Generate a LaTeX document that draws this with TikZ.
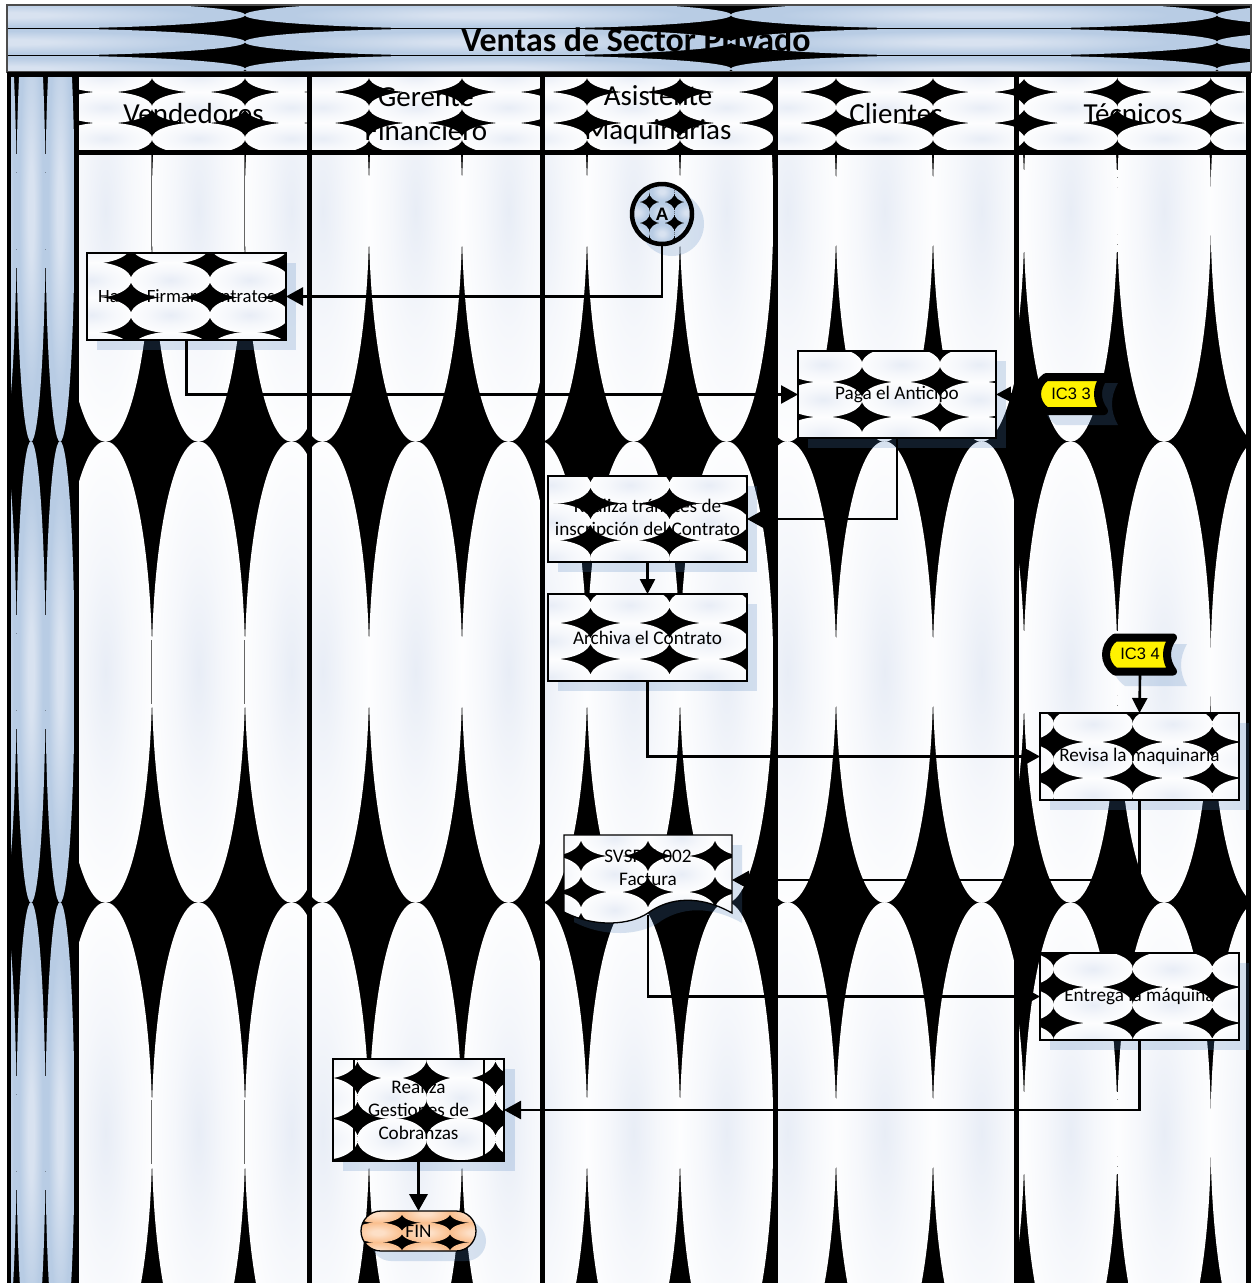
\documentclass[tikz,border=0pt]{standalone}
\usepackage{xcolor}
\usepackage{fontspec}
\setmainfont{Carlito}
\newfontfamily\arialfont{Liberation Sans}
\usetikzlibrary{arrows.meta, positioning}

\definecolor{bandblue}{HTML}{B8CCE4}
\definecolor{bandlight}{HTML}{D8E2F0}
\definecolor{corepale}{HTML}{E8EDF6}
\definecolor{corehalf}{HTML}{F5F7FB}
\definecolor{finorange}{HTML}{FAC090}
\definecolor{finlight}{HTML}{FDDFC6}
\definecolor{shadowblue}{HTML}{4F81BD}
\pgfdeclareradialshading{palecore}{\pgfpoint{0bp}{0bp}}{color(0bp)=(corepale); color(13bp)=(corehalf); color(28bp)=(white); color(50bp)=(white)}
\pgfdeclareradialshading{bluecore}{\pgfpoint{0bp}{0bp}}{color(0bp)=(bandlight); color(5bp)=(bandlight); color(20bp)=(bandblue); color(50bp)=(bandblue)}
\pgfdeclareradialshading{orangecore}{\pgfpoint{0bp}{0bp}}{color(0bp)=(finlight); color(6bp)=(finlight); color(24bp)=(finorange); color(50bp)=(finorange)}

\newcommand{\tilefill}[6]{%
  \begin{scope}
    \clip #1;
    \fill[black] #1;
    \foreach \tx in {#2}{\foreach \ty in {#3}{\shade[shading=#6] (\tx,\ty) ellipse (#4pt and #5pt);}}
  \end{scope}}

\begin{document}
\begin{tikzpicture}[
    x=1pt, y=-1pt,
    titletext/.style={font=\fontsize{33.9}{36}\selectfont\bfseries, inner sep=0pt},
    lanetext/.style={font=\fontsize{29}{34}\selectfont, align=center, inner sep=0pt},
    stepbox/.style={rectangle, draw=black, line width=1.3pt, minimum width=199pt, minimum height=87pt,
                    inner sep=0pt, outer sep=0pt, align=center, font=\fontsize{19.2}{23}\selectfont},
    procbox/.style={stepbox, minimum width=171pt, minimum height=102pt},
    docbox/.style={rectangle, minimum width=168pt, minimum height=80pt, inner sep=0pt, outer sep=0pt},
    doctext/.style={align=center, inner sep=0pt, font=\fontsize{19.2}{23}\selectfont},
    finbox/.style={rectangle, rounded corners=20pt, draw=black, line width=1.3pt, minimum width=115pt, minimum height=40pt,
                   inner sep=0pt, outer sep=0pt, font=\fontsize{19.2}{23}\selectfont},
    connbox/.style={circle, draw=black, line width=4.5pt, minimum size=60pt, inner sep=0pt, outer sep=2pt,
                    font=\arialfont\bfseries\fontsize{18}{20}\selectfont},
    icbox/.style={rectangle, minimum width=74pt, minimum height=42pt, inner sep=0pt, outer sep=0pt,
                  font=\arialfont\fontsize{16.5}{18}\selectfont},
    icshape/.style={draw=black, fill=yellow, line width=8pt, line join=round},
    shadowfill/.style={fill=shadowblue, fill opacity=0.22},
    lanerule/.style={draw=black, line width=4.5pt},
    arr/.style={-{Triangle[length=17pt, width=18pt]}, line width=2.6pt, draw=black},
    arrsmall/.style={-{Triangle[length=15pt, width=15pt]}, line width=2.6pt, draw=black},
    arrthick/.style={-{Triangle[length=17pt, width=18pt]}, line width=3.5pt, draw=black}
]
\useasboundingbox (0,0) rectangle (1256,1283);

% title band and side band
\tilefill{(7,5) rectangle (1251,72)}{2,488,974,1460}{15,42,69}{243.3}{13.9}{bluecore}
\draw[black, line width=0.6pt] (7,28.5) -- (1251,28.5) (7,55.5) -- (1251,55.5);
\draw[black!70, line width=1.5pt] (7,5) rectangle (1251,72);
\tilefill{(9,74) rectangle (77,1283)}{2,31,60,89}{211,672,1133}{14.7}{230.8}{bluecore}

% lanes
\tilefill{(77,76) rectangle (310,152)}{105.5,198.5,291.5}{76.5,107.5,138.5}{46.8}{15.9}{palecore}
\tilefill{(77,152) rectangle (310,1283)}{105.5,198.5,291.5}{211,672,1133}{46.8}{230.8}{palecore}
\tilefill{(310,76) rectangle (543,152)}{322.5,415.5,508.5}{76.5,107.5,138.5}{46.8}{15.9}{palecore}
\tilefill{(310,152) rectangle (543,1283)}{322.5,415.5,508.5}{211,672,1133}{46.8}{230.8}{palecore}
\tilefill{(543,76) rectangle (775,152)}{540.5,633.5,726.5,819.5}{76.5,107.5,138.5}{46.8}{15.9}{palecore}
\tilefill{(543,152) rectangle (775,1283)}{540.5,633.5,726.5,819.5}{211,672,1133}{46.8}{230.8}{palecore}
\tilefill{(775,76) rectangle (1017,152)}{787.5,884.5,981.5,1078.5}{76.5,107.5,138.5}{48.8}{15.9}{palecore}
\tilefill{(775,152) rectangle (1017,1283)}{787.5,884.5,981.5,1078.5}{211,672,1133}{48.8}{230.8}{palecore}
\tilefill{(1017,76) rectangle (1249,152)}{977.5,1070.5,1164,1257.5}{76.5,107.5,138.5}{47}{15.9}{palecore}
\tilefill{(1017,152) rectangle (1249,1283)}{977.5,1070.5,1164,1257.5}{211,672,1133}{47}{230.8}{palecore}
\foreach \sx in {151.5,244.5}{
  \draw[black!60, line width=0.5pt] (\sx,152) -- (\sx,250) (\sx,640) -- (\sx,704) (\sx,1100) -- (\sx,1164);
}

\foreach \lx in {9,76.5,309.5,542.5,775.5,1016.5,1248.5}{\draw[lanerule] (\lx,74) -- (\lx,1283);}
\draw[lanerule] (7,74.5) -- (1251,74.5);
\draw[lanerule] (77,152.5) -- (1249,152.5);

% shadows
\fill[shadowfill] (97,263) rectangle (296,350);
\fill[shadowfill] (808,361) rectangle (1006,448);
\fill[shadowfill] (558,486) rectangle (757,572);
\fill[shadowfill] (558,604) rectangle (757,691);
\fill[shadowfill] (1050,723) rectangle (1249,810);
\fill[shadowfill] (1050,963) rectangle (1249,1050);
\fill[shadowfill] (343,1069) rectangle (515,1171);
\fill[shadowfill] (371,1221) [rounded corners=20pt] rectangle (486,1261);
\fill[shadowfill] (672,224) circle (32pt);
\fill[shadowfill] (574,845) -- (742,845) -- (742,923) .. controls (710,905) and (680,907) .. (658,923) .. controls (640,935) and (605,938) .. (574,922) -- cycle;
\begin{scope}[shift={(1081,404)}]
\fill[shadowfill] (-25,-21) -- (37,-21) .. controls (29,-7) and (29,7) .. (37,21) -- (-25,21) .. controls (-41,10) and (-41,-10) .. (-25,-21) -- cycle;
\end{scope}
\begin{scope}[shift={(1150,665)}]
\fill[shadowfill] (-25,-21) -- (37,-21) .. controls (29,-7) and (29,7) .. (37,21) -- (-25,21) .. controls (-41,10) and (-41,-10) .. (-25,-21) -- cycle;
\end{scope}

% patterns inside the shapes
\tilefill{(87,253) rectangle (286,340)}{91.5,170.5,249.5,328.5}{245.5,280,315,350}{39.9}{18.1}{palecore}
\tilefill{(798,351) rectangle (996,438)}{823,901,979,1057}{329.5,364.5,399.5,434.5}{39.4}{17.9}{palecore}
\tilefill{(548,476) rectangle (747,562)}{551,630,709,788}{485,522,558.5}{39.9}{18.8}{palecore}
\tilefill{(548,594) rectangle (747,681)}{551,630,709,788}{605,641,677}{39.9}{18.4}{palecore}
\tilefill{(1040,713) rectangle (1239,800)}{1014,1093,1172.5,1252}{724,760,796}{39.9}{18.4}{palecore}
\tilefill{(1040,953) rectangle (1239,1040)}{1014,1093,1172.5,1252}{969,1005,1041}{39.9}{18.4}{palecore}
\tilefill{(564,835) -- (732,835) -- (732,913) .. controls (700,895) and (670,897) .. (648,913) .. controls (630,925) and (595,928) .. (564,912) -- cycle}{547.5,614.5,681.5,748.5}{838,874,910}{33.8}{18.4}{palecore}
\tilefill{(333,1059) rectangle (504,1161)}{323,392,461,530}{1058,1098,1139,1180}{34.9}{20.9}{palecore}
\tilefill{(361,1211) [rounded corners=20pt] rectangle (476,1251)}{378,426,474}{1213,1232.5,1252}{24.3}{10}{orangecore}
\tilefill{(662,214) circle (30pt)}{637,662,687}{191.5,212.5,233.5}{12.8}{10.8}{bluecore}

% nodes
\node[titletext] (title) at (636,40) {Ventas de Sector Privado};
\node[lanetext] (vend) at (193.5,114) {Vendedores};
\node[lanetext] (gerente) at (426,114.5) {Gerente\\Financiero};
\node[lanetext] (asist) at (658,114.5) {Asistente\\Maquinarias};
\node[lanetext] (clien) at (896,114) {Clientes};
\node[lanetext] (tecn) at (1133,114) {Técnicos};

\node[connbox] (conA) at (662,214) {A};
\node[stepbox, font=\fontsize{18.7}{23}\selectfont] (firmar) at (186.5,296.5) {Hacer Firmar Contratos};
\node[stepbox, minimum width=198pt] (anticipo) at (897,394.5) {Paga el Anticipo};
\node[stepbox, minimum height=86pt] (tramites) at (647.5,519) {Realiza trámites de\\inscripción del Contrato};
\node[stepbox] (archiva) at (647.5,637.5) {Archiva el Contrato};
\node[stepbox] (revisa) at (1139.5,756.5) {Revisa la maquinaria};
\node[stepbox] (entrega) at (1139.5,996.5) {Entrega la máquina};
\node[procbox] (cobranza) at (418.5,1110) {Realiza\\Gestiones de\\Cobranzas};
\node[finbox] (fin) at (418.5,1231) {FIN};
\node[docbox] (factura) at (648,875) {};
\node[doctext] (facturatxt) at (648,867.5) {SVSP-F-002\\Factura};
\coordinate (facturain) at (732,880);

\draw[black, line width=1.3pt] (564,835) -- (732,835) -- (732,913) .. controls (700,895) and (670,897) .. (648,913) .. controls (630,925) and (595,928) .. (564,912) -- cycle;
\draw[black, line width=1.3pt] (354,1059) -- (354,1161) (484,1059) -- (484,1161);

\begin{scope}[shift={(1071,394)}]
\path[icshape] (-25,-17) -- (33,-17) .. controls (25,-6) and (25,6) .. (33,17) -- (-25,17) .. controls (-37,8) and (-37,-8) .. (-25,-17) -- cycle;
\end{scope}
\begin{scope}[shift={(1140,654.5)}]
\path[icshape] (-25,-17) -- (33,-17) .. controls (25,-6) and (25,6) .. (33,17) -- (-25,17) .. controls (-37,8) and (-37,-8) .. (-25,-17) -- cycle;
\end{scope}
\node[icbox] (ictres) at (1071,394) {IC3 3};
\node[icbox] (iccuatro) at (1140,654) {IC3 4};

% connectors
\draw[arr] (conA.south) |- (firmar.east);
\draw[arr] (firmar.south) |- (anticipo.west);
\draw[arrsmall] (ictres.west) -- (anticipo.east);
\draw[arr] (anticipo.south) |- (tramites.east);
\draw[arrsmall] (tramites.south) -- (archiva.north);
\draw[arr] (archiva.south) |- (revisa.west);
\draw[arrsmall] (iccuatro.south) -- (revisa.north);
\draw[arr] (revisa.south) |- (facturain);
\draw[arr] (factura.south) |- (entrega.west);
\draw[arr] (entrega.south) |- (cobranza.east);
\draw[arrthick] (cobranza.south) -- (fin.north);
\end{tikzpicture}
\end{document}
